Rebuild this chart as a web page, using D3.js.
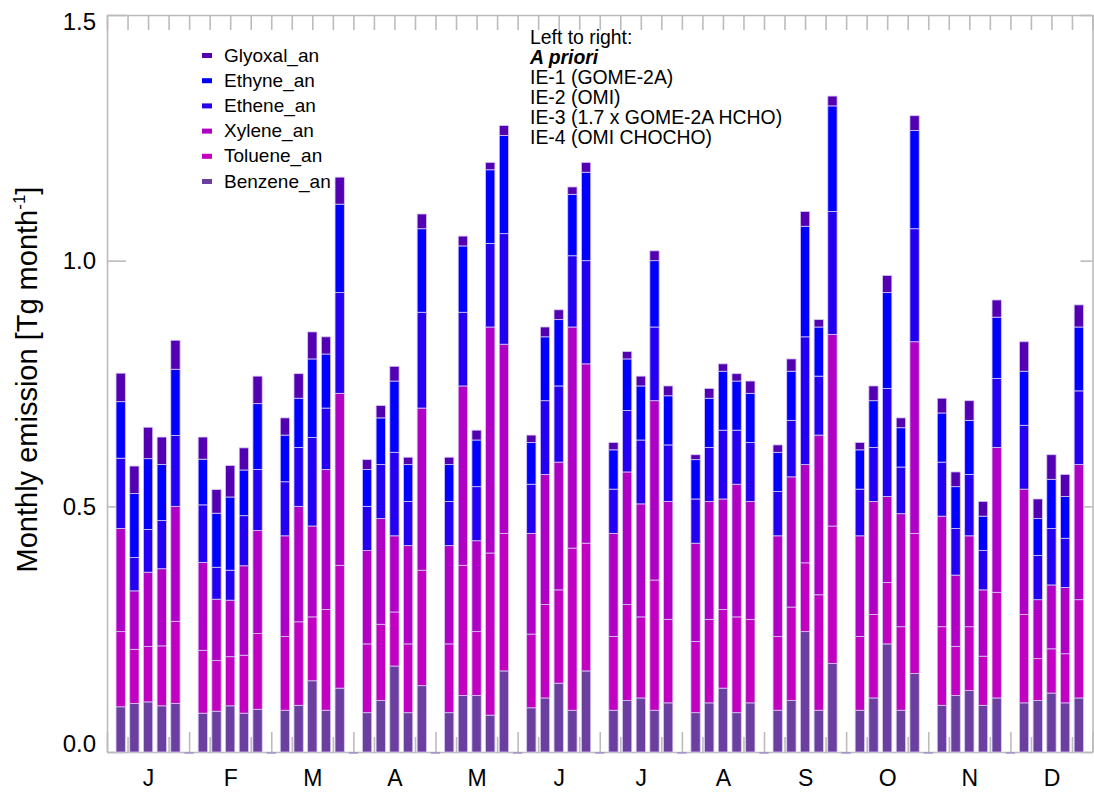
<!DOCTYPE html>
<html>
<head>
<meta charset="utf-8">
<script src="https://cdn.jsdelivr.net/npm/d3@7/dist/d3.min.js"></script>
<style>
  body { margin: 0; background: #fff; }
  text { font-family: "Liberation Sans", Arial, sans-serif; fill: #000; }
</style>
</head>
<body>
<div id="graf"></div>
<script>
// Datos: 12 meses, 5 barras por mes (A priori, IE-1, IE-2, IE-3, IE-4)
const meses = ["J", "F", "M", "A", "M", "J", "J", "A", "S", "O", "N", "D"]
const especies = ["Benzene_an", "Toluene_an", "Xylene_an", "Ethene_an", "Ethyne_an", "Glyoxal_an"]
const colores = ["#6b3f9f", "#c200c2", "#b000c6", "#2400f2", "#0000ff", "#5300b2"]
const notas = ["Left to right:", "A priori", "IE-1 (GOME-2A)", "IE-2 (OMI)", "IE-3 (1.7 x GOME-2A HCHO)", "IE-4 (OMI CHOCHO)"]
const yTicks = [0, 0.5, 1.0, 1.5]

const benzene = [
  0.092, 0.099, 0.102, 0.094, 0.099,
  0.079, 0.083, 0.094, 0.079, 0.087,
  0.085, 0.095, 0.145, 0.085, 0.130,
  0.080, 0.105, 0.175, 0.080, 0.135,
  0.080, 0.115, 0.115, 0.075, 0.165,
  0.090, 0.110, 0.140, 0.085, 0.165,
  0.085, 0.105, 0.110, 0.085, 0.100,
  0.080, 0.100, 0.130, 0.080, 0.100,
  0.085, 0.105, 0.245, 0.085, 0.180,
  0.085, 0.110, 0.220, 0.085, 0.160,
  0.095, 0.115, 0.125, 0.095, 0.110,
  0.100, 0.105, 0.120, 0.100, 0.110
]
const toluene = [
  0.153, 0.110, 0.113, 0.122, 0.167,
  0.128, 0.103, 0.100, 0.118, 0.154,
  0.150, 0.170, 0.130, 0.205, 0.250,
  0.140, 0.155, 0.110, 0.140, 0.235,
  0.140, 0.265, 0.130, 0.330, 0.280,
  0.150, 0.190, 0.190, 0.330, 0.260,
  0.150, 0.195, 0.165, 0.265, 0.170,
  0.145, 0.170, 0.160, 0.195, 0.170,
  0.150, 0.190, 0.140, 0.235, 0.280,
  0.150, 0.170, 0.125, 0.170, 0.285,
  0.160, 0.100, 0.130, 0.100, 0.215,
  0.180, 0.085, 0.090, 0.100, 0.200
]
const xylene = [
  0.210, 0.119, 0.151, 0.157, 0.234,
  0.179, 0.125, 0.115, 0.182, 0.210,
  0.205, 0.235, 0.185, 0.285, 0.350,
  0.190, 0.215, 0.155, 0.200, 0.330,
  0.200, 0.365, 0.185, 0.460, 0.385,
  0.205, 0.265, 0.260, 0.450, 0.365,
  0.210, 0.270, 0.230, 0.365, 0.240,
  0.200, 0.240, 0.225, 0.270, 0.240,
  0.205, 0.265, 0.200, 0.325, 0.390,
  0.205, 0.230, 0.175, 0.230, 0.390,
  0.225, 0.145, 0.185, 0.135, 0.295,
  0.255, 0.120, 0.130, 0.135, 0.275
]
const ethene = [
  0.143, 0.068, 0.087, 0.098, 0.144,
  0.117, 0.065, 0.061, 0.102, 0.124,
  0.110, 0.120, 0.180, 0.125, 0.205,
  0.090, 0.110, 0.170, 0.090, 0.195,
  0.090, 0.150, 0.110, 0.170, 0.225,
  0.100, 0.150, 0.155, 0.145, 0.210,
  0.090, 0.125, 0.130, 0.150, 0.115,
  0.090, 0.110, 0.140, 0.110, 0.120,
  0.090, 0.115, 0.260, 0.120, 0.250,
  0.095, 0.110, 0.220, 0.095, 0.230,
  0.110, 0.095, 0.125, 0.080, 0.140,
  0.130, 0.090, 0.115, 0.100, 0.150
]
const ethyne = [
  0.115, 0.130, 0.144, 0.114, 0.135,
  0.093, 0.110, 0.149, 0.093, 0.134,
  0.095, 0.100, 0.160, 0.110, 0.180,
  0.075, 0.095, 0.145, 0.075, 0.170,
  0.075, 0.135, 0.095, 0.150, 0.200,
  0.085, 0.130, 0.135, 0.125, 0.180,
  0.080, 0.105, 0.110, 0.135, 0.100,
  0.080, 0.100, 0.120, 0.100, 0.100,
  0.080, 0.100, 0.225, 0.100, 0.215,
  0.080, 0.095, 0.195, 0.080, 0.200,
  0.100, 0.085, 0.110, 0.070, 0.125,
  0.110, 0.075, 0.100, 0.085, 0.130
]
const glyoxal = [
  0.058, 0.056, 0.064, 0.056, 0.059,
  0.045, 0.048, 0.064, 0.045, 0.056,
  0.035, 0.050, 0.055, 0.035, 0.055,
  0.020, 0.025, 0.030, 0.015, 0.030,
  0.015, 0.020, 0.020, 0.015, 0.020,
  0.015, 0.020, 0.020, 0.015, 0.020,
  0.015, 0.015, 0.020, 0.020, 0.020,
  0.010, 0.020, 0.015, 0.015, 0.025,
  0.015, 0.025, 0.030, 0.015, 0.020,
  0.015, 0.030, 0.035, 0.020, 0.030,
  0.030, 0.030, 0.040, 0.030, 0.035,
  0.060, 0.040, 0.050, 0.045, 0.045
]

const draw = (el) => {
  const ancho = 1094
  const alto = 792
  const m = { left: 107, right: 1092.5, top: 15, bottom: 752 }

  const svg = d3
    .select(el)
    .append("svg")
    .attr("width", ancho)
    .attr("height", alto)

  // tabla: cada barra en su posicion (6 posiciones por mes, la sexta vacia)
  const series = [benzene, toluene, xylene, ethene, ethyne, glyoxal]
  const dataset = benzene.map((d, k) => {
    const fila = { pos: Math.floor(k / 5) * 6 + (k % 5) + 1 }
    especies.forEach((e, j) => (fila[e] = series[j][k]))
    return fila
  })
  const stack = d3.stack().keys(especies)(dataset)

  // Escaladores
  const x = d3.scaleLinear().domain([0, 72]).range([m.left, m.right])
  const y = d3.scaleLinear().domain([0, 1.5]).range([m.bottom, m.top])
  const color = d3.scaleOrdinal().domain(especies).range(colores)
  const anchoBarra = (x(1) - x(0)) * 0.68

  const cuartos = d3.range(0, 72.01, 1.5)
  const limites = d3.range(0, 72.01, 6)
  const centros = meses.map((d, i) => i * 6 + 3)

  const estiloEje = (g) => {
    g.selectAll("path, line").attr("stroke", "#bcbcbc").attr("stroke-width", 1.6)
    g.selectAll("text").attr("font-size", 24).attr("fill", "#000")
  }

  // Ejes
  svg
    .append("g")
    .attr("transform", `translate(0, ${m.top})`)
    .call(d3.axisBottom(x).tickValues(cuartos).tickSize(15).tickSizeOuter(0).tickFormat(""))
    .call(estiloEje)

  svg
    .append("g")
    .attr("transform", `translate(0, ${m.bottom})`)
    .call(d3.axisTop(x).tickValues(cuartos.filter((d) => d % 6 !== 0)).tickSize(15).tickSizeOuter(0).tickFormat(""))
    .call(estiloEje)

  svg
    .append("g")
    .attr("transform", `translate(0, ${m.bottom})`)
    .call(d3.axisTop(x).tickValues(limites).tickSize(20).tickSizeOuter(0).tickFormat(""))
    .call(estiloEje)
    .call((g) => g.select(".domain").remove())

  svg
    .append("g")
    .attr("transform", `translate(0, ${m.bottom})`)
    .call(d3.axisBottom(x).tickValues(centros).tickSize(0).tickPadding(18).tickFormat((d, i) => meses[i]))
    .call(estiloEje)
    .call((g) => g.select(".domain").remove())
    .call((g) => g.selectAll("text").attr("font-size", 23))

  const ejeY = svg
    .append("g")
    .attr("transform", `translate(${m.left}, 0)`)
    .call(d3.axisLeft(y).tickValues(yTicks).tickSizeInner(-19).tickSizeOuter(0).tickPadding(11).tickFormat(d3.format(".1f")))
    .call(estiloEje)
  ejeY.selectAll(".tick text").attr("dy", (d) => (d === 1.5 ? "0.6em" : d === 0 ? "-0.04em" : "0.32em"))

  svg
    .append("g")
    .attr("transform", `translate(${m.right}, 0)`)
    .call(d3.axisLeft(y).tickValues(yTicks).tickSize(12).tickSizeOuter(0).tickFormat(""))
    .call(estiloEje)

  // Barras
  svg
    .append("g")
    .selectAll("g")
    .data(stack)
    .join("g")
    .attr("fill", (d) => color(d.key))
    .selectAll("rect")
    .data((d) => d)
    .join("rect")
    .attr("x", (d) => x(d.data.pos) - anchoBarra / 2)
    .attr("y", (d) => y(d[1]))
    .attr("width", anchoBarra)
    .attr("height", (d) => y(d[0]) - y(d[1]))
    .attr("stroke", "#d6c8f2")
    .attr("stroke-width", 0.8)

  // posiciones vacias entre meses
  svg
    .append("g")
    .selectAll("line")
    .data(limites.slice(1, -1))
    .join("line")
    .attr("x1", (d) => x(d) - anchoBarra / 2)
    .attr("x2", (d) => x(d) + anchoBarra / 2)
    .attr("y1", y(0) + 1)
    .attr("y2", y(0) + 1)
    .attr("stroke", "#9a80d0")
    .attr("stroke-width", 1.2)

  // Titulo eje Y
  const tituloY = svg
    .append("text")
    .attr("transform", `translate(37, ${(m.top + m.bottom) / 2 - 4}) rotate(-90)`)
    .attr("text-anchor", "middle")
    .attr("font-size", 29)
  tituloY.append("tspan").text("Monthly emission [Tg month")
  tituloY.append("tspan").attr("font-size", 17).attr("dy", -12).text("-1")
  tituloY.append("tspan").attr("dy", 12).text("]")

  // Leyenda
  const leyenda = svg
    .append("g")
    .selectAll("g")
    .data(especies.slice().reverse())
    .join("g")
    .attr("transform", (d, i) => `translate(202, ${55 + i * 25.2})`)
  leyenda
    .append("rect")
    .attr("x", 0)
    .attr("y", -2)
    .attr("width", 10)
    .attr("height", 5)
    .attr("fill", (d) => color(d))
  leyenda
    .append("text")
    .attr("x", 22)
    .attr("dy", "0.35em")
    .attr("font-size", 19)
    .text((d) => d)

  // Notas
  svg
    .append("g")
    .selectAll("text")
    .data(notas)
    .join("text")
    .attr("x", 530)
    .attr("y", (d, i) => 37 + i * 20)
    .attr("dy", "0.35em")
    .attr("font-size", 19.4)
    .attr("font-weight", (d, i) => (i === 1 ? "bold" : "normal"))
    .attr("font-style", (d, i) => (i === 1 ? "italic" : "normal"))
    .text((d) => d)
}

draw("#graf")
</script>
</body>
</html>
